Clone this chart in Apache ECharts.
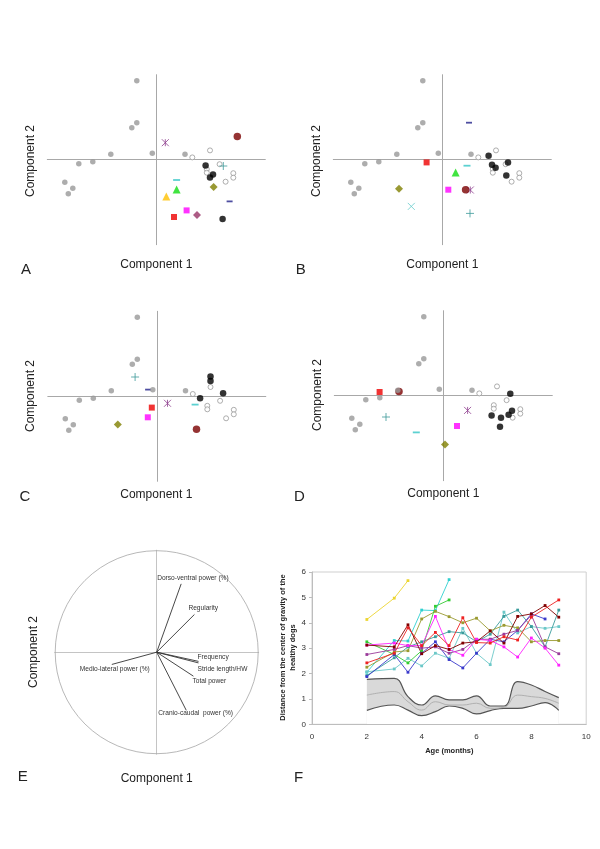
<!DOCTYPE html>
<html><head><meta charset="utf-8">
<script src="https://cdn.jsdelivr.net/npm/echarts@6/dist/echarts.min.js"></script>
<style>html,body{margin:0;padding:0;background:#fff}#c{width:600px;height:849px}</style>
</head><body><div id="c"></div>
<script>
// ---------- DATA ----------
// Panels A-D: PCA projections (arbitrary component units)
const healthy = [[-19.5,79],[-19.5,37],[-24.5,32],[-45.5,5.5],[-63.5,-2],[-77.5,-4],[-91.5,-22.5],[-83.5,-28.5],[-88,-34],[-4,6.5],[28.7,5.5]];
const healthyOpen = [[53.7,9.3],[36,2.3],[63.3,-4.5],[50.5,-9.5],[50.5,-13],[77,-13.5],[77,-18],[69.3,-22]];
const blackA = [[49.3,-5.7],[56.7,-14.7],[53.7,-17.7],[66.3,-59.3]];
const blackB = [[46.3,4],[49.7,-5],[53.3,-8],[65.7,-2.7],[64,-15.7]];
const blackC = [[53.7,19.7],[53.7,15.3],[43.3,-2],[66.3,3]];
const blackD = [[67,2],[48.3,-19.7],[57.7,-22],[65.3,-19],[68.7,-15],[56.7,-31]];
const dogNames = ['asterisk','darkred','plus','cyanDash','greenTri','yellowTri','olive','navyDash','magenta','red','plum','cyanX'];
const dogsA = [[9,17],[81,23.3],[67,-6.3],[20.3,-20.3],[20.3,-29.7],[10,-36.7],[57.3,-27.3],[73.3,-41.7],[30.3,-50.7],[17.7,-57.3],[40.7,-55.3],null];
const dogsB = [[28,-30.3],[23.3,-30],[27.7,-53.7],[24.7,-6],[13.3,-12.7],null,[-43.3,-29],[26.7,37],[6,-30],[-15.7,-2.7],null,[-31,-46.7]];
const dogsC = [[10.7,-7],[39.7,-33],[-21.7,19.3],[38.3,-8.3],null,null,[-39,-28.3],[-8.7,6.7],[-9,-21],[-5,-11.3],null,null];
const dogsD = [[24.3,-14.7],[-44.3,4.3],[-57.3,-21.3],[-27,-36.7],null,null,[1.7,-48.7],null,[13.7,-30.3],[-63.7,3.7],null,null];

// Panel E: correlation circle
const vectorNames = ['Dorso-ventral power (%)','Regularity','Frequency','Stride length/HW','Total power','Cranio-caudal  power (%)','Medio-lateral power (%)'];
const vectorX = [0.24,0.37,0.41,0.41,0.36,0.29,-0.44];
const vectorY = [0.67,0.37,-0.09,-0.105,-0.235,-0.57,-0.12];

// Panel F
const ages = [2,3,3.5,4,4.5,5,5.5,6,6.5,7,7.5,8,8.5,9];
const fYellow   = [4.13,4.97,5.66,null,null,null,null,null,null,null,null,null,null,null];
const fTurq     = [2.05,3.3,3.28,4.5,4.48,5.7,null,null,null,null,null,null,null,null];
const fGreen    = [3.25,2.75,2.42,2.9,4.65,4.9,null,null,null,null,null,null,null,null];
const fOlive    = [2.25,2.85,2.9,4.15,4.45,4.24,4.0,4.18,3.68,3.9,3.8,3.25,3.3,3.3];
const fRed      = [2.42,2.8,3.8,3.1,3.62,3.1,4.2,3.22,3.2,3.45,3.32,4.22,null,4.9];
const fDarkRed  = [3.12,3.05,3.92,2.78,3.1,2.95,3.2,3.25,3.68,3.2,4.25,4.35,4.68,4.22];
const fMagenta  = [3.12,3.2,3.1,3.1,4.25,2.95,2.72,3.35,3.3,3.05,2.65,3.4,3.0,2.33];
const fPurple   = [2.75,2.95,3.1,3.0,3.05,2.8,2.95,3.35,3.35,3.55,3.7,4.3,3.05,2.78];
const fBlue     = [1.88,2.75,2.05,2.8,3.25,2.55,2.22,2.8,3.35,3.25,3.7,4.35,4.15,null];
const fTeal     = [1.92,2.62,3.05,3.25,3.45,3.65,3.6,3.25,3.55,4.25,4.5,3.85,3.05,4.5];
const fLightCyan= [2.07,2.18,2.6,2.3,2.8,2.6,3.78,2.8,2.35,4.42,3.6,3.85,3.78,3.85];
const bandUpper = [1.77,1.81,1.09,0.76,1.12,0.96,0.96,1.12,0.72,0.72,1.68,1.55,1.29,1.05];
const bandLower = [0.55,0.76,0.56,0.34,0.5,0.72,0.63,0.41,0.54,0.63,0.63,0.72,0.85,0.55];
const bandMean  = [1.15,1.29,0.89,0.56,0.89,0.76,0.76,0.83,0.63,0.67,1.15,1.09,1.02,0.83];

// ---------- STYLES ----------
const FONT = "'Liberation Sans', Arial, sans-serif";
const dogStyle = {
  asterisk: {symbol:'path://M0,0L10,10M10,0L0,10M5,0L5,10', size:7, stroke:'#8e3e8e'},
  darkred:  {symbol:'circle', size:7.5, fill:'#7a0000'},
  plus:     {symbol:'path://M0,5L10,5M5,0L5,10', size:8, stroke:'#3d9a9a'},
  cyanDash: {symbol:'rect', size:[7,1.8], fill:'#33c6c6'},
  greenTri: {symbol:'triangle', size:8, fill:'#11dd11'},
  yellowTri:{symbol:'triangle', size:8, fill:'#ffc000'},
  olive:    {symbol:'diamond', size:8, fill:'#808000'},
  navyDash: {symbol:'rect', size:[6,1.8], fill:'#22228a'},
  magenta:  {symbol:'rect', size:6, fill:'#ff00ff'},
  red:      {symbol:'rect', size:6, fill:'#ee0000'},
  plum:     {symbol:'diamond', size:8, fill:'#993366'},
  cyanX:    {symbol:'path://M0,0L10,10M10,0L0,10', size:7, stroke:'#66cccc'}
};

const scatterGrids = [
  {left:47.3, top:74.7, width:218, height:170},
  {left:333.3, top:74.7, width:218, height:170},
  {left:47.8, top:311.3, width:218, height:170},
  {left:334.3, top:310.7, width:218, height:170}
];
const grids = scatterGrids.concat([
  {left:54.7, top:550.2, width:204, height:204},
  {left:312, top:572, width:274.2, height:152.3, show:true, borderColor:'#cfcfcf', borderWidth:1}
]);

const xAxes = [], yAxes = [];
for (let i = 0; i < 4; i++) {
  const base = {type:'value', gridIndex:i, splitLine:{show:false}, axisTick:{show:false}, axisLabel:{show:false},
    axisLine:{show:true, onZero:true, lineStyle:{color:'#a8a8a8', width:1}}};
  xAxes.push(Object.assign({min:-109, max:109}, base));
  yAxes.push(Object.assign({min:-85, max:85}, base));
}
{
  const base = {type:'value', gridIndex:4, min:-1, max:1, splitLine:{show:false}, axisTick:{show:false}, axisLabel:{show:false},
    axisLine:{show:true, onZero:true, lineStyle:{color:'#c4c4c4', width:1}}};
  xAxes.push(Object.assign({}, base));
  yAxes.push(Object.assign({}, base));
}
xAxes.push({type:'value', gridIndex:5, min:0, max:10, interval:2, z:5, splitLine:{show:false},
  axisLine:{show:true, lineStyle:{color:'#bdbdbd'}}, axisTick:{show:false},
  axisLabel:{fontSize:8, color:'#333', fontFamily:FONT, margin:8}});
yAxes.push({type:'value', gridIndex:5, min:0, max:6, interval:1, z:5, splitLine:{show:false},
  axisLine:{show:true, lineStyle:{color:'#bdbdbd'}}, axisTick:{show:true, length:3, lineStyle:{color:'#bdbdbd'}},
  axisLabel:{fontSize:8, color:'#333', fontFamily:FONT, margin:6}});

const series = [];
function panelSeries(gi, black, dogs) {
  series.push({type:'scatter', xAxisIndex:gi, yAxisIndex:gi, data:healthyOpen, symbol:'circle', symbolSize:5,
    itemStyle:{color:'#fff', borderColor:'#9a9a9a', borderWidth:1}, silent:true, z:2});
  series.push({type:'scatter', xAxisIndex:gi, yAxisIndex:gi, data:black, symbol:'circle', symbolSize:6.5,
    itemStyle:{color:'#000'}, silent:true, z:3});
  dogs.forEach((p, i) => {
    if (!p) return;
    const st = dogStyle[dogNames[i]];
    const item = st.stroke ? {color:'rgba(0,0,0,0)', borderColor:st.stroke, borderWidth:1} : {color:st.fill};
    series.push({type:'scatter', xAxisIndex:gi, yAxisIndex:gi, data:[p], symbol:st.symbol, symbolSize:st.size,
      itemStyle:item, silent:true, z:4});
  });
  series.push({type:'scatter', xAxisIndex:gi, yAxisIndex:gi, data:healthy, symbol:'circle', symbolSize:5.5,
    itemStyle:{color:'#999'}, silent:true, z:5});
}
panelSeries(0, blackA, dogsA);
panelSeries(1, blackB, dogsB);
panelSeries(2, blackC, dogsC);
panelSeries(3, blackD, dogsD);

// Panel E
series.push({type:'scatter', xAxisIndex:4, yAxisIndex:4, data:[[0,0]], symbol:'circle', symbolSize:203,
  itemStyle:{color:'rgba(0,0,0,0)', borderColor:'#a6a6a6', borderWidth:1}, silent:true, z:1});
const labelOffsets = [[-24,-6,'left'],[-6,-6,'left'],[-1,-4,'left'],[-1,6,'left'],[-1,5,'left'],[-28,3,'left'],[38,5,'right']];
vectorNames.forEach((n, i) => {
  series.push({type:'line', xAxisIndex:4, yAxisIndex:4, data:[[0,0],[vectorX[i],vectorY[i]]], showSymbol:false,
    lineStyle:{color:'#333', width:0.9}, silent:true, z:3,
    markPoint:{symbol:'circle', symbolSize:0, silent:true,
      data:[{coord:[vectorX[i],vectorY[i]], label:{show:true, formatter:n, position:'inside',
        offset:[labelOffsets[i][0], labelOffsets[i][1]], align:labelOffsets[i][2], verticalAlign:'middle',
        fontSize:6.6, color:'#333', fontFamily:FONT}}]}});
});

// Panel F
const pair = arr => ages.map((a, i) => [a, arr[i]]);
series.push({type:'line', xAxisIndex:5, yAxisIndex:5, data:pair(bandUpper), smooth:0.45, showSymbol:false,
  lineStyle:{color:'#555', width:1.2}, areaStyle:{color:'#d9d9d9', opacity:1}, silent:true, z:2});
series.push({type:'line', xAxisIndex:5, yAxisIndex:5, data:pair(bandLower), smooth:0.45, showSymbol:false,
  lineStyle:{color:'#555', width:1.2}, areaStyle:{color:'#fff', opacity:1}, silent:true, z:2});
series.push({type:'line', xAxisIndex:5, yAxisIndex:5, data:pair(bandMean), smooth:0.45, showSymbol:false,
  lineStyle:{color:'#b0b0b0', width:1}, silent:true, z:2});
const fSeries = [
  [fTurq,'#2fd0d0'],[fLightCyan,'#6cc8c8'],[fTeal,'#3a9c9c'],[fOlive,'#9a9a30'],[fGreen,'#33cc33'],
  [fBlue,'#3a3acc'],[fPurple,'#9a3a9a'],[fMagenta,'#ff22ff'],[fDarkRed,'#800000'],[fRed,'#ee2222'],[fYellow,'#ecd530']
];
fSeries.forEach(([arr, c]) => {
  series.push({type:'line', xAxisIndex:5, yAxisIndex:5, data:pair(arr), connectNulls:true, symbol:'rect', symbolSize:2.8,
    showSymbol:true, lineStyle:{color:c, width:0.9}, itemStyle:{color:c}, silent:true, z:3});
});

// Text labels
function txt(x, y, t, size, opts) {
  return Object.assign({type:'text', x:x, y:y, silent:true,
    style:{text:t, font:(opts && opts.bold ? 'bold ' : '') + size + 'px ' + FONT, fill:'#222',
      textAlign:'center', textVerticalAlign:'middle', verticalAlign:'middle', lineHeight:(opts && opts.lh) || size}},
    opts && opts.rot ? {rotation:Math.PI/2} : {});
}
const graphic = [
  txt(31,161,'Component 2',12,{rot:1}), txt(156.3,265,'Component 1',12), txt(26,269.5,'A',15),
  txt(317,161,'Component 2',12,{rot:1}), txt(442.3,265,'Component 1',12), txt(300.7,269.5,'B',15),
  txt(31,396,'Component 2',12,{rot:1}), txt(156.3,494.3,'Component 1',12), txt(25,496.7,'C',15),
  txt(317.3,395,'Component 2',12,{rot:1}), txt(443.3,493.5,'Component 1',12), txt(299.3,496.5,'D',15),
  txt(33.3,652,'Component 2',12,{rot:1}), txt(156.7,779,'Component 1',12), txt(22.7,777,'E',15),
  txt(298.7,778.3,'F',15),
  txt(449.3,751,'Age (months)',7.5,{bold:1}),
  txt(288.3,647.5,'Distance from the center of gravity of the\nhealthy dogs',7.5,{bold:1,rot:1,lh:10})
];

const chart = echarts.init(document.getElementById('c'), null, {renderer:'canvas'});
chart.setOption({animation:false, backgroundColor:'#fff', grid:grids, xAxis:xAxes, yAxis:yAxes, series:series, graphic:graphic});
</script></body></html>
